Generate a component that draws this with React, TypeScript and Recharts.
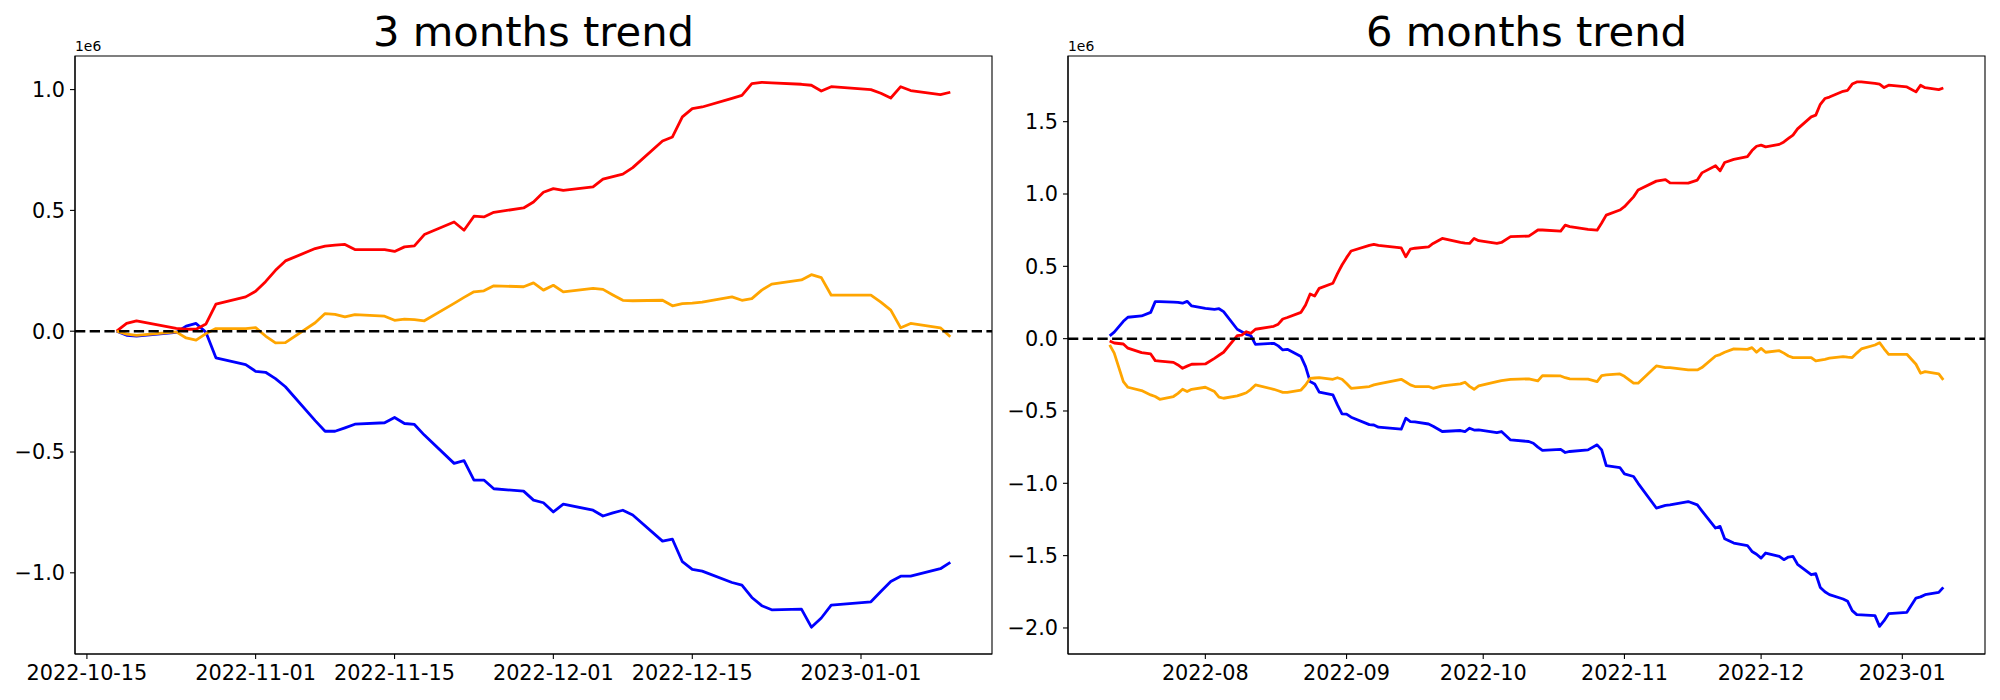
import { LineChart, Line, XAxis, YAxis, ReferenceLine, ReferenceArea } from "recharts";

const FONT = "DejaVu Sans";
const DAY = 86400000;
const ts = (s: string) => Date.parse(s + "T00:00:00Z");
const pad = (n: number) => String(n).padStart(2, "0");
const fmtDay = (t: number) => {
  const d = new Date(t);
  return `${d.getUTCFullYear()}-${pad(d.getUTCMonth() + 1)}-${pad(d.getUTCDate())}`;
};
const fmtMonth = (t: number) => {
  const d = new Date(t);
  return `${d.getUTCFullYear()}-${pad(d.getUTCMonth() + 1)}`;
};
const fmtY = (v: number) => (v < 0 ? "\u2212" : "") + Math.abs(v).toFixed(1);

// ---- 3 months (values in 1e6) ----
const dates3 = [
  "2022-10-18", "2022-10-19", "2022-10-20", "2022-10-24", "2022-10-25", "2022-10-26", "2022-10-27", "2022-10-28",
  "2022-10-31", "2022-11-01", "2022-11-02", "2022-11-03", "2022-11-04", "2022-11-07", "2022-11-08", "2022-11-09",
  "2022-11-10", "2022-11-11", "2022-11-14", "2022-11-15", "2022-11-16", "2022-11-17", "2022-11-18", "2022-11-21",
  "2022-11-22", "2022-11-23", "2022-11-24", "2022-11-25", "2022-11-28", "2022-11-29", "2022-11-30", "2022-12-01",
  "2022-12-02", "2022-12-05", "2022-12-06", "2022-12-07", "2022-12-08", "2022-12-09", "2022-12-12", "2022-12-13",
  "2022-12-14", "2022-12-15", "2022-12-16", "2022-12-19", "2022-12-20", "2022-12-21", "2022-12-22", "2022-12-23",
  "2022-12-26", "2022-12-27", "2022-12-28", "2022-12-29", "2023-01-02", "2023-01-03", "2023-01-04", "2023-01-05",
  "2023-01-06", "2023-01-09", "2023-01-10",
];
const red3 = [
  0, 0.032, 0.043, 0.012, 0.008, 0.008, 0.03, 0.112,
  0.142, 0.165, 0.205, 0.252, 0.291, 0.342, 0.352, 0.356,
  0.359, 0.338, 0.338, 0.33, 0.349, 0.353, 0.4, 0.452,
  0.418, 0.476, 0.473, 0.492, 0.51, 0.535, 0.575, 0.59,
  0.583, 0.597, 0.629, 0.64, 0.65, 0.677, 0.787, 0.804,
  0.887, 0.921, 0.928, 0.964, 0.976, 1.025, 1.03, 1.028,
  1.022, 1.018, 0.994, 1.012, 1.0, 0.985, 0.965, 1.012,
  0.996, 0.979, 0.989,
];
const orange3 = [
  0, -0.012, -0.017, -0.003, -0.028, -0.037, -0.01, 0.011,
  0.011, 0.015, -0.02, -0.048, -0.047, 0.035, 0.073, 0.07,
  0.059, 0.069, 0.062, 0.045, 0.05, 0.048, 0.043, 0.115,
  0.14, 0.163, 0.167, 0.188, 0.184, 0.2, 0.17, 0.19,
  0.163, 0.177, 0.173, 0.15, 0.128, 0.126, 0.128, 0.105,
  0.114, 0.116, 0.12, 0.142, 0.128, 0.135, 0.17, 0.195,
  0.212, 0.234, 0.222, 0.149, 0.149, 0.12, 0.087, 0.014,
  0.032, 0.014, -0.023,
];
const blue3 = [
  0, -0.017, -0.02, -0.005, 0.021, 0.032, -0.005, -0.11,
  -0.138, -0.166, -0.17, -0.196, -0.23, -0.37, -0.414, -0.414,
  -0.4, -0.385, -0.379, -0.357, -0.382, -0.386, -0.43, -0.547,
  -0.536, -0.616, -0.616, -0.652, -0.662, -0.699, -0.71, -0.748,
  -0.716, -0.741, -0.765, -0.752, -0.741, -0.761, -0.869, -0.861,
  -0.954, -0.986, -0.993, -1.04, -1.051, -1.102, -1.136, -1.153,
  -1.15, -1.225, -1.187, -1.134, -1.12, -1.077, -1.036, -1.014,
  -1.014, -0.983, -0.957,
];
const xTicks3 = ["2022-10-15", "2022-11-01", "2022-11-15", "2022-12-01", "2022-12-15", "2023-01-01"];
const yTicks3 = [-1, -0.5, 0, 0.5, 1];

// ---- 6 months (values in 1e6) ----
const dates6 = [
  "2022-07-11", "2022-07-12", "2022-07-14", "2022-07-15", "2022-07-18", "2022-07-20", "2022-07-21", "2022-07-22",
  "2022-07-25", "2022-07-26", "2022-07-27", "2022-07-28", "2022-07-29", "2022-08-01", "2022-08-03", "2022-08-04",
  "2022-08-05", "2022-08-08", "2022-08-09", "2022-08-10", "2022-08-11", "2022-08-12", "2022-08-16", "2022-08-17",
  "2022-08-18", "2022-08-19", "2022-08-22", "2022-08-23", "2022-08-24", "2022-08-25", "2022-08-26", "2022-08-29",
  "2022-08-30", "2022-08-31", "2022-09-01", "2022-09-02", "2022-09-06", "2022-09-07", "2022-09-08", "2022-09-13",
  "2022-09-14", "2022-09-15", "2022-09-16", "2022-09-19", "2022-09-20", "2022-09-22", "2022-09-26", "2022-09-27",
  "2022-09-28", "2022-09-29", "2022-09-30", "2022-10-04", "2022-10-05", "2022-10-07", "2022-10-11", "2022-10-12",
  "2022-10-13", "2022-10-14", "2022-10-18", "2022-10-19", "2022-10-20", "2022-10-24", "2022-10-26", "2022-10-27",
  "2022-10-28", "2022-10-31", "2022-11-01", "2022-11-03", "2022-11-04", "2022-11-08", "2022-11-10", "2022-11-11",
  "2022-11-15", "2022-11-17", "2022-11-18", "2022-11-21", "2022-11-22", "2022-11-23", "2022-11-25", "2022-11-28",
  "2022-11-29", "2022-11-30", "2022-12-01", "2022-12-02", "2022-12-05", "2022-12-06", "2022-12-07", "2022-12-08",
  "2022-12-09", "2022-12-12", "2022-12-13", "2022-12-14", "2022-12-15", "2022-12-16", "2022-12-19", "2022-12-20",
  "2022-12-21", "2022-12-22", "2022-12-23", "2022-12-26", "2022-12-27", "2022-12-28", "2022-12-29", "2023-01-02",
  "2023-01-04", "2023-01-05", "2023-01-06", "2023-01-09", "2023-01-10",
];
const red6 = [
  -0.016, -0.03, -0.037, -0.066, -0.097, -0.106, -0.152, -0.155,
  -0.164, -0.182, -0.205, -0.19, -0.177, -0.175, -0.136, -0.115,
  -0.094, 0.021, 0.025, 0.048, 0.037, 0.065, 0.085, 0.1,
  0.136, 0.146, 0.182, 0.233, 0.309, 0.295, 0.348, 0.383,
  0.45, 0.509, 0.56, 0.606, 0.645, 0.652, 0.645, 0.628,
  0.566, 0.619, 0.625, 0.635, 0.658, 0.693, 0.665, 0.66,
  0.658, 0.693, 0.677, 0.658, 0.665, 0.705, 0.709, 0.73,
  0.751, 0.751, 0.744, 0.785, 0.775, 0.755, 0.75, 0.8,
  0.854, 0.889, 0.912, 0.98, 1.027, 1.089, 1.1, 1.077,
  1.075, 1.096, 1.146, 1.195, 1.16, 1.218, 1.239, 1.258,
  1.3, 1.33, 1.338, 1.326, 1.343, 1.36, 1.384, 1.407,
  1.45, 1.533, 1.545, 1.62, 1.66, 1.67, 1.71, 1.717,
  1.76, 1.775, 1.775, 1.765, 1.76, 1.736, 1.752, 1.74,
  1.706, 1.752, 1.735, 1.722, 1.733,
];
const orange6 = [
  -0.043, -0.1, -0.297, -0.336, -0.359, -0.389, -0.4, -0.419,
  -0.4, -0.378, -0.35, -0.366, -0.35, -0.336, -0.366, -0.405,
  -0.412, -0.396, -0.385, -0.374, -0.35, -0.32, -0.35, -0.36,
  -0.371, -0.371, -0.355, -0.32, -0.274, -0.272, -0.27, -0.281,
  -0.27, -0.281, -0.31, -0.343, -0.331, -0.32, -0.313, -0.281,
  -0.3, -0.32, -0.331, -0.331, -0.343, -0.327, -0.313, -0.301,
  -0.33, -0.35, -0.327, -0.297, -0.29, -0.281, -0.278, -0.285,
  -0.292, -0.255, -0.258, -0.27, -0.278, -0.28, -0.297, -0.255,
  -0.251, -0.244, -0.26, -0.308, -0.308, -0.189, -0.2, -0.2,
  -0.216, -0.216, -0.2, -0.12, -0.11, -0.094, -0.071, -0.074,
  -0.062, -0.094, -0.067, -0.094, -0.083, -0.1, -0.12, -0.131,
  -0.131, -0.131, -0.154, -0.148, -0.143, -0.135, -0.124, -0.128,
  -0.131, -0.1, -0.071, -0.044, -0.028, -0.07, -0.108, -0.108,
  -0.177, -0.239, -0.228, -0.244, -0.285,
];
const blue6 = [
  0.019, 0.045, 0.12, 0.148, 0.157, 0.182, 0.256, 0.256,
  0.253, 0.251, 0.245, 0.258, 0.226, 0.21, 0.203, 0.207,
  0.187, 0.065, 0.048, 0.03, 0.02, -0.039, -0.032, -0.05,
  -0.078, -0.074, -0.124, -0.193, -0.297, -0.313, -0.37, -0.389,
  -0.458, -0.52, -0.522, -0.543, -0.594, -0.597, -0.612, -0.626,
  -0.55, -0.573, -0.575, -0.59, -0.605, -0.642, -0.635, -0.642,
  -0.619, -0.632, -0.63, -0.649, -0.642, -0.7, -0.711, -0.723,
  -0.75, -0.773, -0.766, -0.787, -0.78, -0.769, -0.734, -0.769,
  -0.877, -0.891, -0.935, -0.953, -1.0, -1.171, -1.152, -1.149,
  -1.126, -1.149, -1.19, -1.309, -1.298, -1.383, -1.413, -1.43,
  -1.471, -1.49, -1.517, -1.482, -1.505, -1.528, -1.51, -1.505,
  -1.56, -1.632, -1.625, -1.72, -1.75, -1.77, -1.8, -1.816,
  -1.88, -1.908, -1.91, -1.915, -1.989, -1.95, -1.901, -1.892,
  -1.793, -1.785, -1.77, -1.754, -1.719,
];
const xTicks6 = ["2022-08-01", "2022-09-01", "2022-10-01", "2022-11-01", "2022-12-01", "2023-01-01"];
const yTicks6 = [-2, -1.5, -1, -0.5, 0, 0.5, 1, 1.5];

const table = (dates: string[], red: number[], orange: number[], blue: number[]) =>
  dates.map((d, i) => ({ t: ts(d), red: red[i], orange: orange[i], blue: blue[i] }));

const tickStyle = { fontSize: 20.8, fill: "#000", fontFamily: FONT };
const lineStyle = { stroke: "#000", strokeWidth: 1.1 };

type PanelProps = {
  data: { t: number; red: number; orange: number; blue: number }[];
  xDomain: [number, number];
  xTicks: number[];
  xFmt: (t: number) => string;
  yDomain: [number, number];
  yTicks: number[];
  yWidth: number;
  right: number;
};

function Panel({ data, xDomain, xTicks, xFmt, yDomain, yTicks, yWidth, right }: PanelProps) {
  return (
    <LineChart width={1000} height={700} data={data} margin={{ top: 56, right, bottom: 0, left: 0 }}>
      <XAxis
        dataKey="t"
        type="number"
        domain={xDomain}
        allowDataOverflow
        ticks={xTicks}
        interval={0}
        tickFormatter={xFmt}
        tick={tickStyle}
        tickLine={lineStyle}
        axisLine={lineStyle}
        tickSize={5}
        tickMargin={6}
        height={46}
      />
      <YAxis
        type="number"
        domain={yDomain}
        allowDataOverflow
        ticks={yTicks}
        interval={0}
        tickFormatter={fmtY}
        tick={tickStyle}
        tickLine={lineStyle}
        axisLine={lineStyle}
        tickSize={5}
        tickMargin={5}
        width={yWidth}
      />
      <ReferenceArea x1={xDomain[0]} x2={xDomain[1]} y1={yDomain[0]} y2={yDomain[1]} fill="none" stroke="#000" strokeWidth={1.1} />
      <Line type="linear" dataKey="blue" stroke="blue" strokeWidth={2.8} dot={false} strokeLinejoin="round" isAnimationActive={false} />
      <Line type="linear" dataKey="red" stroke="red" strokeWidth={2.8} dot={false} strokeLinejoin="round" isAnimationActive={false} />
      <Line type="linear" dataKey="orange" stroke="orange" strokeWidth={2.8} dot={false} strokeLinejoin="round" isAnimationActive={false} />
      <ReferenceLine y={0} stroke="#000" strokeWidth={2.5} strokeDasharray="10.3 4.4" />
    </LineChart>
  );
}

export default function App() {
  const data3 = table(dates3, red3, orange3, blue3);
  const data6 = table(dates6, red6, orange6, blue6);
  const x3: [number, number] = [ts(dates3[0]) - 4.2 * DAY, ts(dates3[dates3.length - 1]) + 4.2 * DAY];
  const x6: [number, number] = [ts(dates6[0]) - 9.15 * DAY, ts(dates6[dates6.length - 1]) + 9.15 * DAY];

  return (
    <div style={{ position: "absolute", left: 0, top: 0, width: 2000, height: 700, background: "#fff", fontFamily: FONT }}>
      <div style={{ position: "absolute", left: 0, top: 0 }}>
        <Panel data={data3} xDomain={x3} xTicks={xTicks3.map(ts)} xFmt={fmtDay}
          yDomain={[-1.336, 1.139]} yTicks={yTicks3} yWidth={75} right={8} />
      </div>
      <div style={{ position: "absolute", left: 1000, top: 0 }}>
        <Panel data={data6} xDomain={x6} xTicks={xTicks6.map(ts)} xFmt={fmtMonth}
          yDomain={[-2.18, 1.954]} yTicks={yTicks6} yWidth={68} right={15} />
      </div>
      <svg width={2000} height={700} style={{ position: "absolute", left: 0, top: 0, pointerEvents: "none" }}>
        <text x={533.5} y={46} textAnchor="middle" fontSize={41.7} fontFamily={FONT} fill="#000">3 months trend</text>
        <text x={1526.5} y={46} textAnchor="middle" fontSize={41.7} fontFamily={FONT} fill="#000">6 months trend</text>
        <text x={75} y={51} fontSize={13.9} fontFamily={FONT} fill="#000">1e6</text>
        <text x={1068} y={51} fontSize={13.9} fontFamily={FONT} fill="#000">1e6</text>
      </svg>
    </div>
  );
}
